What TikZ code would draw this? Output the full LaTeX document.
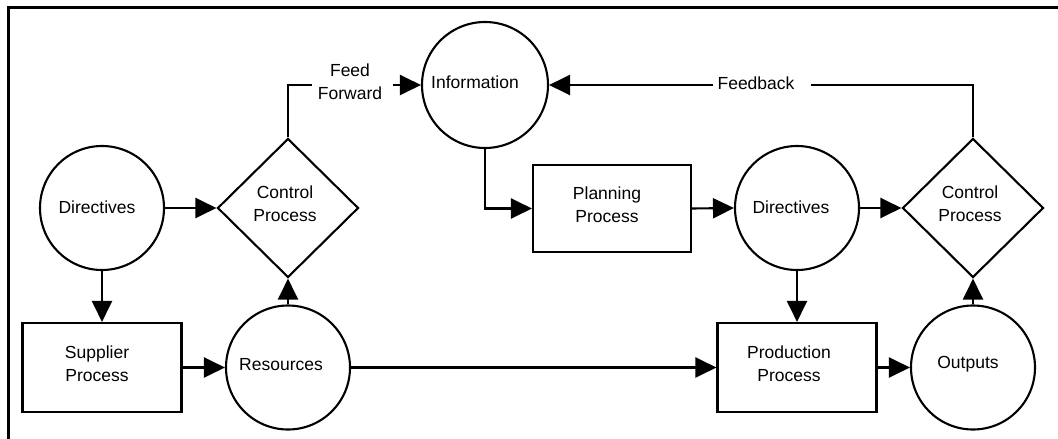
\documentclass[tikz,border=0pt]{standalone}
\usepackage{fontspec}
\setmainfont{Liberation Sans}
\usetikzlibrary{arrows.meta,shapes.geometric}
\begin{document}
\begin{tikzpicture}[x=1pt,y=-1pt,
  every node/.style={font=\fontsize{17.5}{23}\selectfont},
  line/.style={line width=2.1pt},
  flow/.style={line, -{Triangle[length=21pt,width=20pt]}},
  circ/.style={circle, draw, line width=2.1pt, minimum size=124pt, inner sep=0pt},
  proc/.style={rectangle, draw, line width=2.1pt, minimum width=159pt, minimum height=89pt, inner sep=0pt},
  ctrl/.style={diamond, draw, line width=2.1pt, minimum width=141pt, minimum height=139pt, inner sep=0pt},
  txt/.style={align=center, inner sep=0pt},
]
\useasboundingbox (0,0) rectangle (1058,439);
% outer frame
\draw[line width=3pt] (8,439) -- (8,7) -- (1058,7);

% left loop
\node[circ, label={[txt,xshift=-5pt,yshift=1pt]center:Directives}] (dirL) at (102,208) {};
\node[ctrl, label={[txt,xshift=-3pt,yshift=4pt]center:{Control\\Process}}] (ctrlL) at (288,208) {};
\node[proc, label={[txt,xshift=-5pt,yshift=4pt]center:{Supplier\\Process}}] (sup) at (102,367.5) {};
\node[circ, label={[txt,xshift=-7pt,yshift=3pt]center:Resources}] (res) at (288,367.5) {};

% information and planning
\node[circ, minimum size=126pt, label={[txt,xshift=-10pt,yshift=3pt]center:Information}] (info) at (485,85) {};
\node[proc, minimum width=158pt, minimum height=87pt, label={[txt,xshift=-5pt,yshift=4pt]center:{Planning\\Process}}] (plan) at (612,208.5) {};

% right loop
\node[circ, label={[txt,xshift=-6pt,yshift=1pt]center:Directives}] (dirR) at (797,208) {};
\node[ctrl, label={[txt,xshift=-3pt,yshift=4pt]center:{Control\\Process}}] (ctrlR) at (973,208) {};
\node[proc, label={[txt,xshift=-8pt,yshift=4pt]center:{Production\\Process}}] (prod) at (797,367.5) {};
\node[circ, label={[txt,xshift=-5pt,yshift=3pt]center:Outputs}] (out) at (973,367.5) {};

% loop labels
\node[txt] (ff) at (350,82) {Feed\\Forward};
\node[txt] (fb) at (756,83) {Feedback};
\coordinate (ffL) at (312,85);
\coordinate (ffR) at (393,85);
\coordinate (fbL) at (713,85);
\coordinate (fbR) at (811,85);

% connectors
\draw[flow] (dirL.east) -- (ctrlL.west);
\draw[flow] (dirL.south) -- (sup.north);
\draw[flow] (sup.east) -- (res.west);
\draw[flow] (res.north) -- (ctrlL.south);
\draw[flow] (res.east) -- (prod.west);
\draw[line] (ctrlL.north) |- (ffL);
\draw[flow] (ffR) -- (info.west);
\draw[flow] (info.south) |- (plan.west);
\draw[flow] (plan.east) -- (dirR.west);
\draw[flow] (dirR.east) -- (ctrlR.west);
\draw[flow] (dirR.south) -- (prod.north);
\draw[flow] (prod.east) -- (out.west);
\draw[flow] (out.north) -- (ctrlR.south);
\draw[line] (ctrlR.north) |- (fbR);
\draw[flow] (fbL) -- (info.east);
\end{tikzpicture}
\end{document}
